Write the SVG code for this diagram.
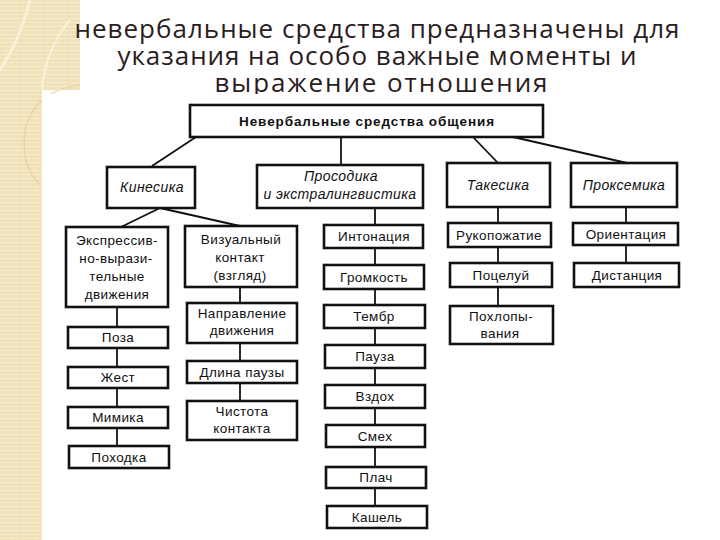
<svg xmlns="http://www.w3.org/2000/svg" width="720" height="540" viewBox="0 0 720 540">
<defs>
<pattern id="stripes" width="6" height="4" patternUnits="userSpaceOnUse">
<rect width="6" height="4" fill="#efe0b6"/>
<rect y="2" width="6" height="1" fill="#f7ecd2"/>
<rect x="5" width="1" height="4" fill="#f3e6c6"/>
</pattern>
<style>
.box{fill:#fff;stroke:#111;stroke-width:2.6}
.ln{stroke:#111;stroke-width:1.8;fill:none}
.t{font-family:"Liberation Sans",Arial,sans-serif;font-size:13.5px;fill:#111;text-anchor:middle;letter-spacing:0.4px}
.it{font-style:italic;font-size:14px}
.b{font-weight:bold;font-size:13.5px;letter-spacing:0.9px}
.title{font-family:"Open Sans","DejaVu Sans",sans-serif;font-size:26px;fill:#2b1d1d;text-anchor:middle}
</style>
</defs>
<rect width="720" height="540" fill="#fff"/>
<g id="background">
<rect x="0" y="0" width="80" height="90" fill="url(#stripes)"/>
<rect x="0" y="0" width="42" height="540" fill="url(#stripes)"/>
<path d="M30 0 Q20 40 0 70" stroke="#f9f1dc" stroke-width="3" fill="none"/>
<path d="M80 85 Q35 90 25 130 Q20 165 40 185" stroke="#e6d2a4" stroke-width="1.2" fill="none"/>
<path d="M70 20 Q45 50 42 90" stroke="#f9f1dc" stroke-width="2" fill="none"/>
<circle cx="697" cy="515" r="1.5" fill="#aaa"/>
</g>
<g id="title">
<text class="title" x="377" y="38" textLength="605" lengthAdjust="spacing">невербальные средства предназначены для</text>
<text class="title" x="377" y="65" textLength="519" lengthAdjust="spacing">указания на особо важные моменты и</text>
<text class="title" x="381" y="92" textLength="333" lengthAdjust="spacing">выражение отношения</text>
</g>
<rect x="42" y="94" width="678" height="446" fill="#fff"/>
<g id="connectors">
<line class="ln" x1="196" y1="137" x2="152" y2="166"/>
<line class="ln" x1="341" y1="137" x2="341" y2="165"/>
<line class="ln" x1="473" y1="137" x2="498" y2="163"/>
<line class="ln" x1="513" y1="137" x2="627" y2="163"/>
<line class="ln" x1="160" y1="208" x2="121" y2="227"/>
<line class="ln" x1="160" y1="208" x2="240" y2="226"/>
<line class="ln" x1="117" y1="307" x2="117" y2="446"/>
<line class="ln" x1="240" y1="287" x2="240" y2="401"/>
<line class="ln" x1="375" y1="208" x2="375" y2="506"/>
<line class="ln" x1="498" y1="207" x2="498" y2="306"/>
<line class="ln" x1="626" y1="207" x2="626" y2="264"/>
</g>
<g id="n-main"><rect class="box" x="190" y="105" width="353" height="32"/><text class="t b" x="367" y="126">Невербальные средства общения</text></g>
<g id="n-kinesika"><rect class="box" x="107" y="167" width="88" height="41"/><text class="t it" x="152" y="192">Кинесика</text></g>
<g id="n-prosodika"><rect class="box" x="257" y="165" width="166" height="43"/><text class="t it" x="341" y="181">Просодика</text><text class="t it" x="340" y="199">и экстралингвистика</text></g>
<g id="n-takesika"><rect class="box" x="447" y="163" width="103" height="44"/><text class="t it" x="498" y="190">Такесика</text></g>
<g id="n-proksemika"><rect class="box" x="571" y="163" width="106" height="44"/><text class="t it" x="624" y="190">Проксемика</text></g>
<g id="n-expr"><rect class="box" x="66" y="227" width="102" height="80"/><text class="t" x="117" y="245">Экспрессив-</text><text class="t" x="116" y="263">но-вырази-</text><text class="t" x="117" y="281">тельные</text><text class="t" x="117" y="299">движения</text></g>
<g id="n-vizual"><rect class="box" x="185" y="226" width="112" height="61"/><text class="t" x="241" y="244">Визуальный</text><text class="t" x="240" y="262">контакт</text><text class="t" x="240" y="280">(взгляд)</text></g>
<g id="n-poza"><rect class="box" x="68" y="327" width="100" height="21"/><text class="t" x="118" y="342">Поза</text></g>
<g id="n-zhest"><rect class="box" x="68" y="367" width="100" height="21"/><text class="t" x="118" y="382">Жест</text></g>
<g id="n-mimika"><rect class="box" x="68" y="407" width="100" height="21"/><text class="t" x="118" y="422">Мимика</text></g>
<g id="n-pokhodka"><rect class="box" x="69" y="446" width="100" height="22"/><text class="t" x="119" y="462">Походка</text></g>
<g id="n-napr"><rect class="box" x="187" y="303" width="110" height="40"/><text class="t" x="242" y="318">Направление</text><text class="t" x="242" y="335">движения</text></g>
<g id="n-dlina"><rect class="box" x="187" y="361" width="110" height="22"/><text class="t" x="242" y="377">Длина паузы</text></g>
<g id="n-chistota"><rect class="box" x="187" y="401" width="110" height="39"/><text class="t" x="242" y="416">Чистота</text><text class="t" x="242" y="433">контакта</text></g>
<g id="n-intonatsia"><rect class="box" x="324" y="225" width="99" height="23"/><text class="t" x="374" y="241">Интонация</text></g>
<g id="n-gromkost"><rect class="box" x="324" y="265" width="100" height="24"/><text class="t" x="374" y="282">Громкость</text></g>
<g id="n-tembr"><rect class="box" x="324" y="305" width="101" height="23"/><text class="t" x="374" y="321">Тембр</text></g>
<g id="n-pauza"><rect class="box" x="325" y="345" width="100" height="23"/><text class="t" x="375" y="361">Пауза</text></g>
<g id="n-vzdokh"><rect class="box" x="325" y="385" width="100" height="23"/><text class="t" x="375" y="401">Вздох</text></g>
<g id="n-smekh"><rect class="box" x="326" y="425" width="99" height="22"/><text class="t" x="375" y="441">Смех</text></g>
<g id="n-plach"><rect class="box" x="326" y="467" width="100" height="21"/><text class="t" x="376" y="482">Плач</text></g>
<g id="n-kashel"><rect class="box" x="327" y="506" width="100" height="22"/><text class="t" x="377" y="522">Кашель</text></g>
<g id="n-rukopozh"><rect class="box" x="448" y="223" width="103" height="24"/><text class="t" x="499" y="240">Рукопожатие</text></g>
<g id="n-potseluy"><rect class="box" x="450" y="263" width="102" height="24"/><text class="t" x="501" y="280">Поцелуй</text></g>
<g id="n-pokhlop"><rect class="box" x="450" y="306" width="103" height="38"/><text class="t" x="501" y="321">Похлопы-</text><text class="t" x="500" y="338">вания</text></g>
<g id="n-orient"><rect class="box" x="573" y="223" width="105" height="22"/><text class="t" x="626" y="239">Ориентация</text></g>
<g id="n-distants"><rect class="box" x="574" y="263" width="105" height="24"/><text class="t" x="627" y="280">Дистанция</text></g>
</svg>
